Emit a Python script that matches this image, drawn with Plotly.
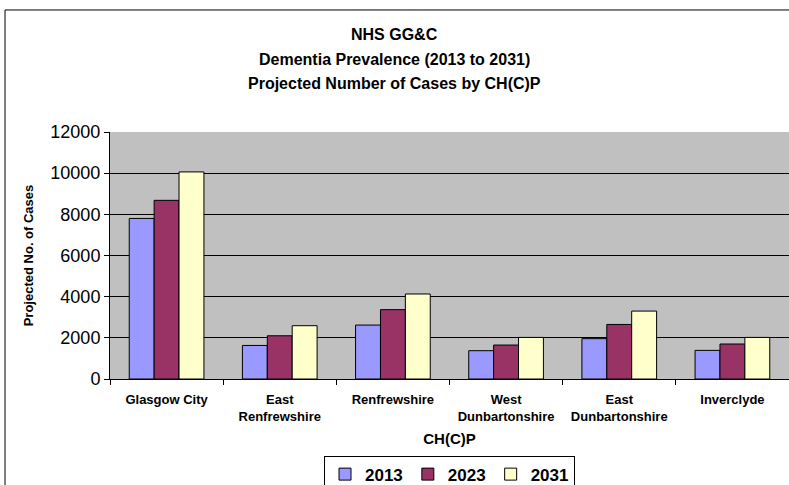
import plotly.graph_objects as go

categories = ["Glasgow City", "East<br>Renfrewshire", "Renfrewshire",
              "West<br>Dunbartonshire", "East<br>Dunbartonshire", "Inverclyde"]
v2013 = [7800, 1630, 2620, 1375, 1960, 1390]
v2023 = [8680, 2100, 3370, 1650, 2650, 1700]
v2031 = [10060, 2590, 4130, 2020, 3300, 2020]
series = [("2013", v2013, "#9999FF"), ("2023", v2023, "#993366"), ("2031", v2031, "#FFFFCC")]
yticks = [0, 2000, 4000, 6000, 8000, 10000, 12000]
title_lines = ["NHS GG&C", "Dementia Prevalence (2013 to 2031)", "Projected Number of Cases by CH(C)P"]

FONT = "Liberation Sans, Arial, sans-serif"

fig = go.Figure()
for name, vals, col in series:
    fig.add_trace(go.Bar(x=categories, y=vals, name="<b>" + name + "</b>",
                         marker=dict(color=col, line=dict(color="black", width=1))))

fig.update_layout(
    width=789, height=485,
    margin=dict(l=110, r=0, t=132, b=106, autoexpand=False),
    paper_bgcolor="white", plot_bgcolor="#C0C0C0",
    bargap=0.34, bargroupgap=0,
    font=dict(family=FONT, color="black"),
    showlegend=True,
    legend=dict(orientation="h", x=0.5, xanchor="center", y=-0.31, yanchor="top",
                bordercolor="black", borderwidth=1, bgcolor="white",
                font=dict(size=17, family=FONT), traceorder="normal",
                itemwidth=30, tracegroupgap=0),
)
# title lines (24.5 px apart like the reference)
for i, line in enumerate(title_lines):
    fig.add_annotation(text="<b>" + line + "</b>", xref="paper", yref="paper",
                       x=(394.5 - 110) / 679, y=(379 - 35 - 24.5 * i) / 247,
                       xanchor="center", yanchor="middle", showarrow=False,
                       font=dict(size=16, family=FONT))
fig.update_xaxes(
    title=dict(text="<b>CH(C)P</b>", font=dict(size=15), standoff=10),
    tickfont=dict(size=13),
    tickprefix="<b>", ticksuffix="</b>",
    showline=True, linecolor="black", linewidth=1,
    ticks="outside", tickson="boundaries", ticklen=5, tickcolor="black",
    ticklabelstandoff=8,
    showgrid=False,
)
fig.update_yaxes(
    range=[0, 12000], tickvals=yticks, ticktext=[str(t) for t in yticks],
    tickfont=dict(size=18),
    title=dict(text="<b>Projected No. of Cases</b>", font=dict(size=13), standoff=13),
    showline=True, linecolor="black", linewidth=1,
    ticks="outside", ticklen=5, tickcolor="black",
    showgrid=True, gridcolor="black", gridwidth=1,
    zeroline=False,
)
fig.add_shape(type="rect", xref="paper", yref="paper",
              x0=-0.1546, x1=1.05, y0=-0.6, y1=1.494,
              line=dict(color="black", width=1), fillcolor="rgba(0,0,0,0)", layer="below")

fig.write_html("out.html")
